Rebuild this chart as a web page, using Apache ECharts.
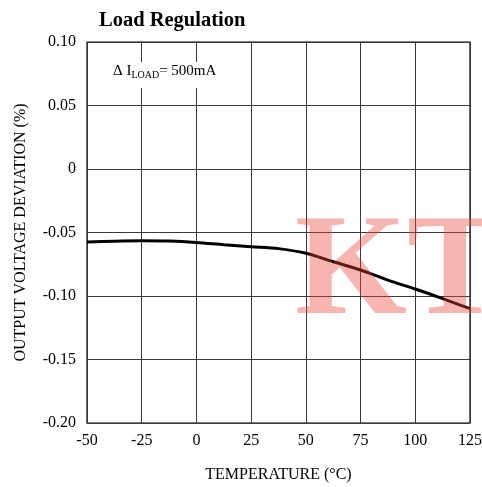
<!DOCTYPE html>
<html><head><meta charset="utf-8">
<script src="https://cdn.jsdelivr.net/npm/echarts@6/dist/echarts.min.js"></script>
<style>html,body{margin:0;padding:0;background:#fff}#c{width:482px;height:487px}</style>
</head><body><div id="c"></div>
<script>
const temps = [-50, -37.5, -25, -12.5, 0, 12.5, 25, 37.5, 50, 62.5, 75, 87.5, 100, 112.5, 125];
const deviation = [-0.0575, -0.0568, -0.0565, -0.0567, -0.0578, -0.0596, -0.0612, -0.0627, -0.0664, -0.073, -0.0795, -0.0875, -0.0945, -0.102, -0.110];
const xTicks = [-50, -25, 0, 25, 50, 75, 100, 125];
const yTicks = [0.10, 0.05, 0, -0.05, -0.10, -0.15, -0.20];
const F = '"Liberation Serif", "DejaVu Serif", serif';
const chart = echarts.init(document.getElementById('c'));
chart.setOption({
  animation: false,
  title: { text: 'Load Regulation', left: 94, top: 5, textStyle: { fontFamily: F, fontSize: 20.5, fontWeight: 'bold', color: '#000' } },
  grid: { left: 87, right: 12, top: 42, bottom: 64, show: true, borderColor: '#000', borderWidth: 1.2, containLabel: false, outerBoundsMode: 'none' },
  xAxis: {
    type: 'value', min: -50, max: 125, interval: 25,
    name: 'TEMPERATURE (°C)', nameLocation: 'middle', nameGap: 44,
    nameTextStyle: { fontFamily: F, fontSize: 16, color: '#000' },
    axisLine: { show: false }, axisTick: { show: false },
    axisLabel: { fontFamily: F, fontSize: 16, color: '#000', margin: 10, formatter: v => xTicks.includes(v) ? String(v) : '' },
    splitLine: { lineStyle: { color: '#3a3a3a', width: 1 } }
  },
  yAxis: {
    type: 'value', min: -0.2, max: 0.1, interval: 0.05,
    name: 'OUTPUT VOLTAGE DEVIATION (%)', nameLocation: 'middle', nameGap: 58,
    nameTextStyle: { fontFamily: F, fontSize: 16, color: '#000' },
    axisLine: { show: false }, axisTick: { show: false },
    axisLabel: { fontFamily: F, fontSize: 16, color: '#000', margin: 11,
      formatter: v => { const t = yTicks.find(y => Math.abs(y - v) < 1e-9); return t === undefined ? '' : (Math.abs(t) < 1e-9 ? '0' : t.toFixed(2)); } },
    splitLine: { lineStyle: { color: '#3a3a3a', width: 1 } }
  },
  series: [{
    type: 'line', smooth: 0.3, symbol: 'none',
    data: temps.map((t, i) => [t, deviation[i]]),
    lineStyle: { color: '#000', width: 3 }, z: 3
  }],
  graphic: [
    { type: 'rect', left: 108, top: 62, shape: { width: 122, height: 26 }, style: { fill: '#fff' }, z: 10 },
    { type: 'text', left: 113, top: 64, z: 11,
      style: { rich: { a: { fontFamily: F, fontSize: 15, fill: '#000' }, s: { fontFamily: F, fontSize: 10, fill: '#000', padding: [8, 0, 0, 0] } },
        text: '{a|Δ I}{s|LOAD}{a|= 500mA}' } },
    { type: 'text', left: 295, top: 204, z: 20, silent: true,
      style: { text: 'KT', fontFamily: F, fontWeight: 'bold', fontSize: 144, fill: 'rgba(232,72,55,0.4)' } }
  ]
});
</script></body></html>
